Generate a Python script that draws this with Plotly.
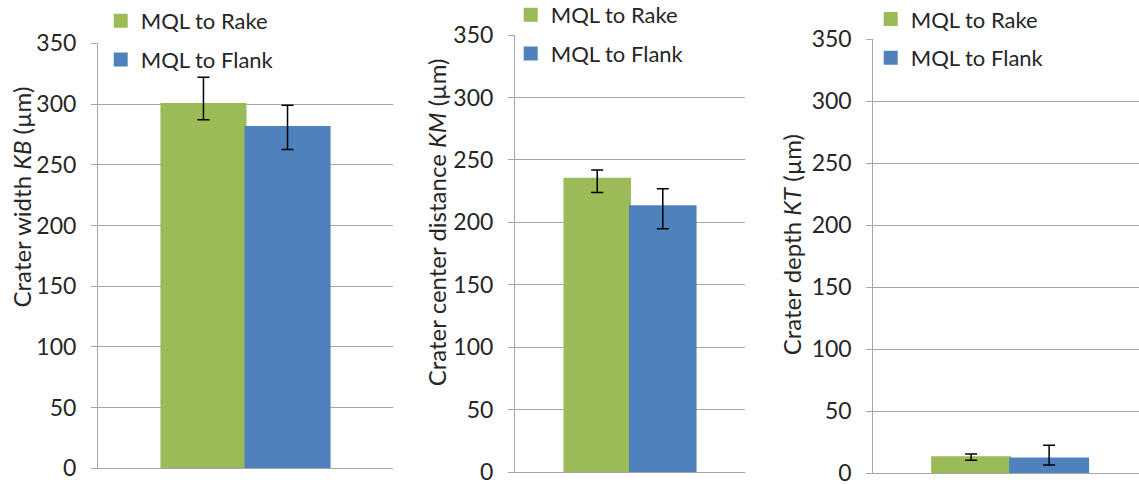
import plotly.graph_objects as go

W, H = 1139, 484

series = ["MQL to Rake", "MQL to Flank"]
colors = ["#9BBB59", "#4F81BD"]
category = ["A"]

# Panel 1: crater width KB (µm)
kb_mean = [300, 281]
kb_err_plus = [22, 18]
kb_err_minus = [13, 18.5]
# Panel 2: crater center distance KM (µm)
km_mean = [235, 213]
km_err_plus = [7, 14]
km_err_minus = [11, 18]
# Panel 3: crater depth KT (µm)
kt_mean = [13, 12]
kt_err_plus = [2.6, 10.6]
kt_err_minus = [2.5, 5.3]

y_ticks = [0, 50, 100, 150, 200, 250, 300, 350]

titles = ["Crater width <i>KB</i> (µm)",
          "Crater center distance <i>KM</i> (µm)",
          "Crater depth <i>KT</i> (µm)"]

panels = [
    (kb_mean, kb_err_plus, kb_err_minus),
    (km_mean, km_err_plus, km_err_minus),
    (kt_mean, kt_err_plus, kt_err_minus),
]

FONT = "Lato"
TXT = "#262626"
GRID = "#A6A6A6"

def px(x):
    return x / W

def py(y):
    return 1 - y / H

# plot-area geometry (pixels)
x_dom = [(98, 393), (515, 745), (873.3, 1139)]
y_dom = [(468.3, 43.3), (472.3, 35), (473.3, 39)]
x_rng = [[-0.5, 0.5], [-0.5, 0.5], [-0.5, 0.471]]

fig = go.Figure()
legend_names = ["legend", "legend2", "legend3"]
for p, (mean, ep, em) in enumerate(panels):
    ax = "" if p == 0 else str(p + 1)
    for s in range(2):
        fig.add_trace(go.Bar(
            x=category, y=[mean[s]], name=series[s],
            marker=dict(color=colors[s], line=dict(width=2, color=colors[s])),
            error_y=dict(type="data", symmetric=False, array=[ep[s]],
                         arrayminus=[em[s]], color="black",
                         thickness=1.5, width=6),
            xaxis="x" + ax, yaxis="y" + ax,
            legend=legend_names[p], legendgroup=f"g{p}{s}",
            offsetgroup=str(s),
        ))

layout = dict(
    width=W, height=H,
    margin=dict(l=0, r=0, t=0, b=0, autoexpand=False),
    paper_bgcolor="white", plot_bgcolor="white",
    barmode="group", bargap=0.43, bargroupgap=0,
    font=dict(family=FONT, size=22, color=TXT),
    showlegend=True,
)

leg_pos = [(100.7, 0), (510.7, -6), (870.7, -1.7)]
for p in range(3):
    ax = "" if p == 0 else str(p + 1)
    layout["xaxis" + ax] = dict(
        domain=[px(x_dom[p][0]), px(x_dom[p][1])],
        anchor="y" + ax, range=x_rng[p], showticklabels=False,
        showgrid=False, zeroline=False, showline=True, linecolor=GRID,
        linewidth=1, ticks="", fixedrange=True,
    )
    layout["yaxis" + ax] = dict(
        domain=[py(y_dom[p][0]), py(y_dom[p][1])],
        anchor="x" + ax, range=[0, 350], tickvals=y_ticks,
        showgrid=True, gridcolor=GRID, gridwidth=1,
        zeroline=False, showline=True, linecolor=GRID, linewidth=1,
        ticks="outside", ticklen=6, tickcolor=GRID, tickwidth=1,
        ticklabelstandoff=10, ticklabeloverflow="allow",
        tickfont=dict(family=FONT, size=23, color=TXT),
    )
    layout[legend_names[p]] = dict(
        x=px(leg_pos[p][0]), y=py(leg_pos[p][1]),
        xanchor="left", yanchor="top",
        bgcolor="rgba(0,0,0,0)", borderwidth=0,
        font=dict(family=FONT, size=22, color=TXT),
        tracegroupgap=7, orientation="v",
    )

fig.update_layout(**layout)

title_pos = [(21.7, 196.7), (436.7, 222.5), (791.7, 244.5)]
for p in range(3):
    fig.add_annotation(
        text=titles[p], x=px(title_pos[p][0]), y=py(title_pos[p][1]),
        xref="paper", yref="paper", xanchor="center", yanchor="middle",
        textangle=-90, showarrow=False,
        font=dict(family=FONT, size=24, color=TXT),
    )

fig.write_html("out.html")
